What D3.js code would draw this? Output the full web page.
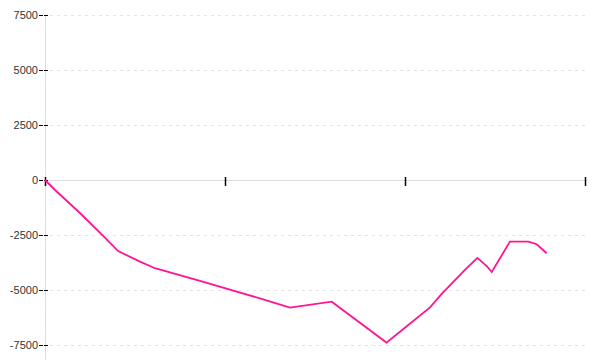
<!DOCTYPE html>
<html>
<head>
<meta charset="utf-8">
<script src="https://cdn.jsdelivr.net/npm/d3@7"></script>
<style>
    body { margin: 0; background: #fff; }
    text { font-family: "Liberation Sans", Arial, sans-serif; font-size: 11px; fill: #333; }
</style>
</head>
<body>
<div id="chart"></div>
<script>
(function () {

    // series
    const xs = [0, 0.056, 0.194, 0.333, 0.406, 0.528, 0.611, 0.861, 1.194, 1.361, 1.593, 1.897, 1.972,
        2.139, 2.204, 2.333, 2.402, 2.454, 2.482, 2.583, 2.685, 2.732, 2.787];
    const ys = [0, -455, -1500, -2620, -3230, -3710, -4010, -4590, -5380, -5800, -5530, -7390, -6900,
        -5790, -5180, -4090, -3540, -3910, -4180, -2800, -2800, -2920, -3330];
    const yTicks = [-7500, -5000, -2500, 0, 2500, 5000, 7500];
    const xTicks = [0, 1, 2, 3];

    const width = 600, height = 360;
    const left = 45, right = 585, top = 15, bottom = 345;

    const xScale = d3.scaleLinear().domain([0, 3]).range([left, right]);
    const yScale = d3.scaleLinear().domain([-7500, 7500]).range([bottom, top]);

    const svg = d3.select("#chart")
        .append("svg")
        .attr("width", width)
        .attr("height", height);

    // dashed grid
    svg.append("g")
        .selectAll("line")
        .data(yTicks.filter(d => d !== 0))
        .enter()
        .append("line")
        .attr("x1", left + 5)
        .attr("x2", right)
        .attr("y1", d => yScale(d) + 0.5)
        .attr("y2", d => yScale(d) + 0.5)
        .attr("stroke", "#e4e4e4")
        .attr("stroke-dasharray", "3,4");

    // y axis line and zero line
    svg.append("line")
        .attr("x1", left + 0.5).attr("x2", left + 0.5)
        .attr("y1", top).attr("y2", height)
        .attr("stroke", "#ddd");
    svg.append("line")
        .attr("x1", left).attr("x2", right)
        .attr("y1", yScale(0) + 0.5).attr("y2", yScale(0) + 0.5)
        .attr("stroke", "#ddd");

    // y ticks + labels
    const yAxis = svg.append("g");
    yAxis.selectAll("line")
        .data(yTicks)
        .enter()
        .append("line")
        .attr("x1", left - 6)
        .attr("x2", left + 3)
        .attr("y1", d => yScale(d) + 0.5)
        .attr("y2", d => yScale(d) + 0.5)
        .attr("stroke", "#000")
        .attr("stroke-dasharray", "4,1,4");
    yAxis.selectAll("text")
        .data(yTicks)
        .enter()
        .append("text")
        .attr("x", left - 7)
        .attr("y", d => yScale(d))
        .attr("dy", "0.35em")
        .attr("text-anchor", "end")
        .text(d => d);

    // x ticks, no labels
    svg.append("g")
        .selectAll("line")
        .data(xTicks)
        .enter()
        .append("line")
        .attr("x1", d => Math.round(xScale(d)) + 0.5)
        .attr("x2", d => Math.round(xScale(d)) + 0.5)
        .attr("y1", yScale(0) - 3)
        .attr("y2", yScale(0) + 6)
        .attr("stroke", "#000")
        .attr("stroke-width", 1.5);

    const line = d3.line()
        .x((d, i) => xScale(xs[i]))
        .y(d => yScale(d));

    svg.append("path")
        .datum(ys)
        .attr("d", line)
        .attr("fill", "none")
        .attr("stroke", "#ff1493")
        .attr("stroke-width", 1.8);

})()
</script>
</body>
</html>
